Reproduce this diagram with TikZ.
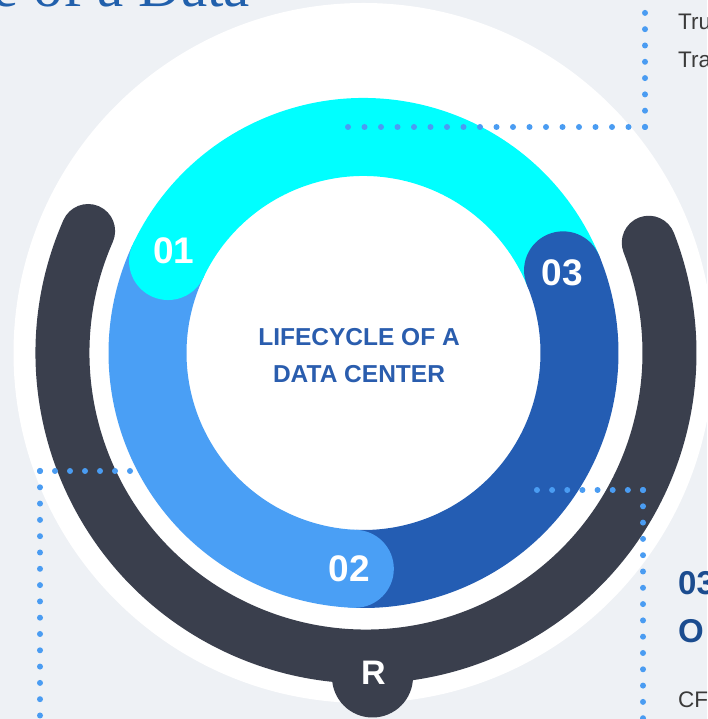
\documentclass[tikz,border=0pt]{standalone}
\usepackage{fontspec}
\setmainfont{Liberation Sans}
\newfontfamily\serifx{Liberation Serif}
\definecolor{bgc}{HTML}{EEF1F5}
\definecolor{cyanc}{HTML}{00FFFF}
\definecolor{lbc}{HTML}{4A9FF5}
\definecolor{dbc}{HTML}{245DB3}
\definecolor{slatec}{HTML}{3A3F4D}
\definecolor{dotc}{HTML}{4A9CF2}
\definecolor{titlec}{HTML}{2160AC}
\definecolor{centerc}{HTML}{2A5DAE}
\definecolor{headc}{HTML}{1B4C8F}
\definecolor{bodyc}{HTML}{3A3A3A}
\tikzset{
  seg/.style={line width=78pt, line cap=butt},
  dotline/.style={dotc, line width=6pt, line cap=round, dash pattern=on 0pt off #1},
  numlbl/.style={text=white, font=\bfseries\fontsize{37}{37}\selectfont, inner sep=0pt},
  centerlbl/.style={text=centerc, font=\bfseries\fontsize{24.5}{24.5}\selectfont, inner sep=0pt},
  bodytxt/.style={text=bodyc, font=\fontsize{22.5}{22.5}\selectfont, inner sep=0pt, anchor=base west},
  headtxt/.style={text=headc, font=\bfseries\fontsize{33}{33}\selectfont, inner sep=0pt, anchor=base west}
}
\begin{document}
\begin{tikzpicture}[x=1pt,y=1pt]
\useasboundingbox (0,0) rectangle (707,719);
\fill[bgc] (0,0) rectangle (707,719);
\coordinate (C) at (363.5,366);
\coordinate (D) at (366,366);
% big white disc
\fill[white] (C) circle (350);
% title (cropped)
\node[text=titlec, font=\serifx\fontsize{59}{59}\selectfont, inner sep=0pt, anchor=base east] (title) at (250,712) {e of a Data};
% dark outer arc
\draw[slatec, line width=54pt, line cap=round] ([shift={(156.3:303.5)}]D) arc[start angle=156.3, end angle=381.3, radius=303.5];
\node[circle, fill=slatec, minimum size=81pt, inner sep=0pt] (bump) at (372.5,42) {};
\node[text=white, font=\bfseries\fontsize{34}{34}\selectfont, inner sep=0pt] (rl) at (373.5,46.5) {R};
% coloured ring segments
\draw[seg, lbc] ([shift={(154.8:216)}]C) arc[start angle=154.8, end angle=267.7, radius=216];
\draw[seg, cyanc] ([shift={(22.5:216)}]C) arc[start angle=22.5, end angle=154.8, radius=216];
\draw[seg, dbc] ([shift={(-92.3:216)}]C) arc[start angle=-92.3, end angle=22.5, radius=216];
% heads
\fill[cyanc] ([shift={(154.8:216)}]C) circle (39);
\fill[dbc] ([shift={(22.5:216)}]C) circle (39);
\fill[lbc] ([shift={(267.7:216)}]C) circle (39);
% labels
\node[numlbl] (n1) at (174,468.5) {01};
\node[numlbl] (n2) at (349,150.5) {02};
\node[numlbl] (n3) at (562.5,446.5) {03};
\node[centerlbl] (t1) at (359,381.5) {LIFECYCLE OF A};
\node[centerlbl] (t2) at (359,345) {DATA CENTER};
% dotted leaders
\coordinate (k1) at (645,592);
\coordinate (k1a) at (645,722);
\coordinate (k1b) at (345,592);
\draw[dotline=16.3pt] (k1) -- (k1a);
\draw[dotline=16.5pt] (k1) -- (k1b);
\coordinate (k2) at (40,248);
\coordinate (k2a) at (132,248);
\coordinate (k2b) at (40,-4);
\draw[dotline=15pt] (k2) -- (k2a);
\draw[dotline=16.3pt] (k2) -- (k2b);
\coordinate (k3) at (643,229);
\coordinate (k3a) at (535,229);
\coordinate (k3b) at (643,-4);
\draw[dotline=15.15pt] (k3) -- (k3a);
\draw[dotline=16.3pt] (k3) -- (k3b);
% side texts (cropped)
\node[bodytxt] (tr1) at (678,689) {Tru};
\node[bodytxt] (tr2) at (678,651) {Tra};
\node[headtxt] (h1) at (678,124) {03};
\node[headtxt] (h2) at (678,76) {O};
\node[bodytxt] (cf) at (678,12) {CF};
\end{tikzpicture}
\end{document}
